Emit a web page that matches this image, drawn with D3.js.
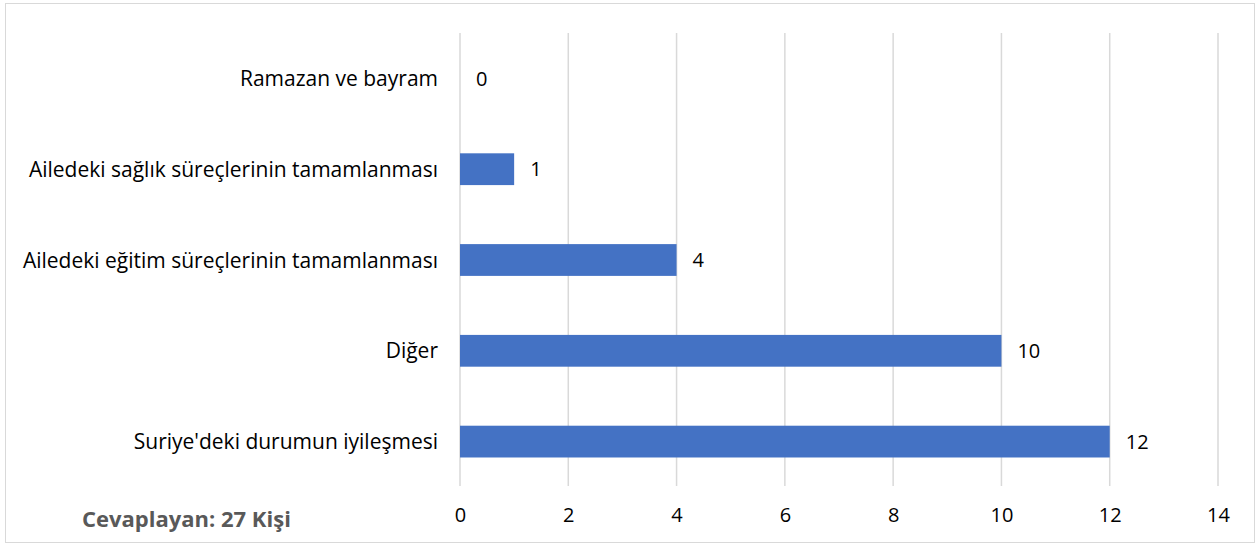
<!DOCTYPE html>
<html>
<head>
<meta charset="utf-8">
<script src="https://cdn.jsdelivr.net/npm/d3@7"></script>
<style>
  body { margin: 0; background: #fff; }
  svg text { font-family: "Open Sans", sans-serif; }
</style>
</head>
<body>
<svg width="1260" height="546"></svg>
<script>
const categories = [
  'Ramazan ve bayram',
  'Ailedeki sağlık süreçlerinin tamamlanması',
  'Ailedeki eğitim süreçlerinin tamamlanması',
  'Diğer',
  "Suriye'deki durumun iyileşmesi"
];
const values = [0, 1, 4, 10, 12];
const xTicks = [0, 2, 4, 6, 8, 10, 12, 14];
const note = 'Cevaplayan: 27 Kişi';

const svg = d3.select('svg');

// chart frame
svg.append('rect')
  .attr('x', 5.5).attr('y', 3.5)
  .attr('width', 1249).attr('height', 539)
  .attr('fill', '#fff').attr('stroke', '#d9d9d9');

const x = d3.scaleLinear().domain([0, 14]).range([460, 1218]);
const y = d3.scaleBand().domain(categories).range([33, 487]).paddingInner(0.65).paddingOuter(0.325);

const g = svg.append('g');

// gridlines
g.selectAll('line.grid')
  .data(xTicks)
  .enter().append('line')
  .attr('class', 'grid')
  .attr('x1', d => x(d)).attr('x2', d => x(d))
  .attr('y1', 33).attr('y2', 486)
  .attr('stroke', '#d9d9d9').attr('stroke-width', 1.5);

// bars
g.selectAll('rect.bar')
  .data(values)
  .enter().append('rect')
  .attr('class', 'bar')
  .attr('x', x(0))
  .attr('y', (d, i) => y(categories[i]))
  .attr('width', d => x(d) - x(0))
  .attr('height', y.bandwidth())
  .attr('fill', '#4472c4');

// value labels
g.selectAll('text.val')
  .data(values)
  .enter().append('text')
  .attr('class', 'val')
  .attr('x', d => x(d) + 16)
  .attr('y', (d, i) => y(categories[i]) + y.bandwidth() / 2)
  .attr('dy', '0.36em')
  .attr('font-size', 20)
  .attr('fill', '#000')
  .text(d => d);

// category labels
g.selectAll('text.cat')
  .data(categories)
  .enter().append('text')
  .attr('class', 'cat')
  .attr('x', 438)
  .attr('y', d => y(d) + y.bandwidth() / 2)
  .attr('dy', '0.36em')
  .attr('text-anchor', 'end')
  .attr('font-size', 21)
  .attr('fill', '#000')
  .text(d => d);

// x axis tick labels
const xAxis = d3.axisBottom(x).tickValues(xTicks).tickSize(0).tickPadding(0);
const ax = svg.append('g').attr('transform', 'translate(0,508)').call(xAxis);
ax.select('.domain').remove();
ax.selectAll('text').attr('font-size', 20).attr('fill', '#000')
  .style('font-family', '"Open Sans", sans-serif');

svg.append('text')
  .attr('x', 82).attr('y', 527)
  .attr('font-size', 22).attr('font-weight', 'bold')
  .attr('fill', '#595959')
  .text(note);
</script>
</body>
</html>
